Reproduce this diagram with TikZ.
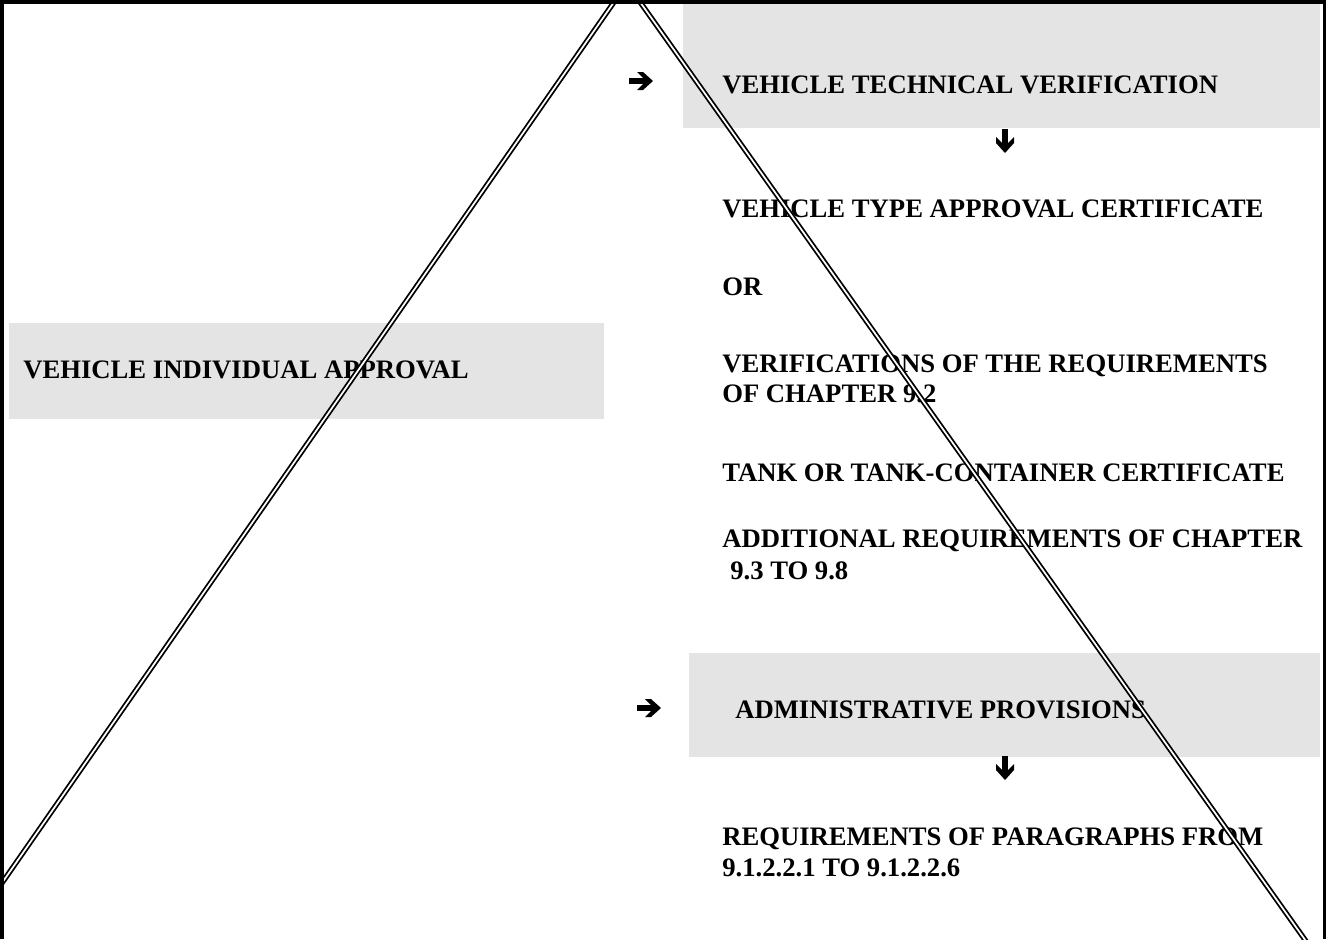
\documentclass[tikz,border=0pt]{standalone}
\usepackage{fontspec}
\setmainfont{Liberation Serif}
\begin{document}
\begin{tikzpicture}[x=0.75pt,y=-0.75pt,
  greybox/.style={fill=boxgrey, draw=none},
  lbl/.style={anchor=base west, inner sep=0pt, font=\fontsize{20}{22}\selectfont\bfseries},
  dline/.style={draw=black, double=white, double distance=1.3pt, line width=1.35pt},
  frameline/.style={draw=black, line width=2.6pt},
  rarrow/.pic={\fill (-12,-3) rectangle (6,3);
               \fill (-4,-9) -- (2,-9) -- (12,0) -- (2,9) -- (-4,9) -- (5,0) -- cycle;}
]
\definecolor{boxgrey}{RGB}{228,228,228}
\useasboundingbox (0,0) rectangle (1327,939);
% grey boxes
\fill[greybox] (683,0) rectangle (1320,128);
\fill[greybox] (9,323) rectangle (604,419);
\fill[greybox] (689,653) rectangle (1320,757);
% arrows
\pic at (641,81) {rarrow};
\pic at (649,708) {rarrow};
\pic[rotate=-90] at (1005,141) {rarrow};
\pic[rotate=-90] at (1005,768) {rarrow};
% texts
\node[lbl] (vtv) at (722,93) {VEHICLE TECHNICAL VERIFICATION};
\node[lbl] (vtac) at (722,217) {VEHICLE TYPE APPROVAL CERTIFICATE};
\node[lbl] (or) at (722,295) {OR};
\node[lbl] (ver1) at (722,372) {VERIFICATIONS OF THE REQUIREMENTS};
\node[lbl] (ver2) at (722,402) {OF CHAPTER 9.2};
\node[lbl] (tank) at (722,481) {TANK OR TANK-CONTAINER CERTIFICATE};
\node[lbl] (add1) at (722,547) {ADDITIONAL REQUIREMENTS OF CHAPTER};
\node[lbl] (add2) at (730,579) {9.3 TO 9.8};
\node[lbl] (adm) at (735,718) {ADMINISTRATIVE PROVISIONS};
\node[lbl] (req1) at (722,845) {REQUIREMENTS OF PARAGRAPHS FROM};
\node[lbl] (req2) at (722,876) {9.1.2.2.1 TO 9.1.2.2.6};
\node[lbl] (via) at (23,378) {VEHICLE INDIVIDUAL APPROVAL};
% double lines
\begin{scope}
\clip (0,0) rectangle (1327,939);
\draw[dline] (-2.9,890) -- (626.9,-16.5) -- (1308.7,945);
\end{scope}
% frame
\draw[frameline] (2,939) -- (2,2) -- (1324.5,2) -- (1324.5,939);
\end{tikzpicture}
\end{document}
